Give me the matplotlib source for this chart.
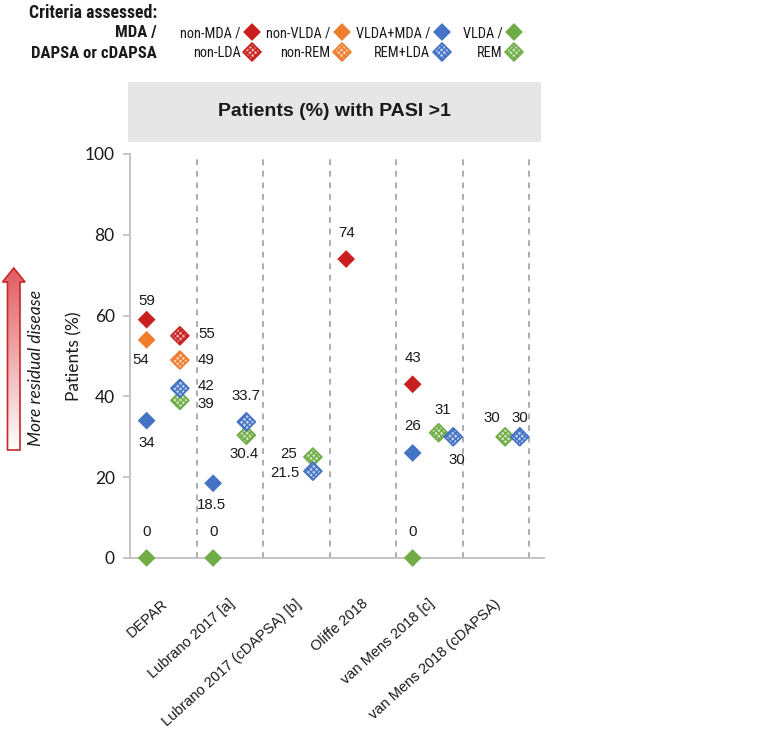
import numpy as np
import matplotlib
matplotlib.use("Agg")
import matplotlib.pyplot as plt
from matplotlib import font_manager as fm
from matplotlib.patches import Polygon, Rectangle

# ---------------- data ----------------
categories = ["DEPAR", "Lubrano 2017 [a]", "Lubrano 2017 (cDAPSA) [b]",
              "Oliffe 2018", "van Mens 2018 [c]", "van Mens 2018 (cDAPSA)"]

# MDA-based criteria (solid markers)
non_mda  = [59, None, None, 74, 43, None]
non_vlda = [54, None, None, None, None, None]
vlda_mda = [34, 18.5, None, None, 26, None]
vlda     = [0, 0, None, None, 0, None]

# DAPSA / cDAPSA-based criteria (patterned markers)
non_lda = [55, None, None, None, None, None]
non_rem = [49, None, None, None, None, None]
rem_lda = [42, 33.7, 21.5, None, 30, 30]
rem     = [39, 30.4, 25, None, 31, 30]

y_ticks = [0, 20, 40, 60, 80, 100]

# ---------------- style ----------------
RED, ORANGE, BLUE, GREEN = "#C8201E", "#EE7D2E", "#4472C4", "#70AD47"
names = {f.name for f in fm.fontManager.ttflist}
SANS = "Liberation Sans"
NARROW = SANS
for cand in ["Liberation Sans Narrow", "Arial Narrow", "Roboto Condensed", "Open Sans Condensed", "Roboto"]:
    if cand in names:
        NARROW = cand
        break
CAL = "Lato"
TXT = "#1a1a1a"

W, H, DPI = 767, 736, 100
fig = plt.figure(figsize=(W / DPI, H / DPI), dpi=DPI)
fig.patch.set_facecolor("white")

# main axes (pixel layout: x 130..544, y 154..558)
ax = fig.add_axes([130 / W, 1 - 558 / H, (544 - 130) / W, (558 - 154) / H])
ax.set_xlim(-0.5, 5.725)
ax.set_ylim(0, 100)
for s in ["top", "right"]:
    ax.spines[s].set_visible(False)
for s in ["left", "bottom"]:
    ax.spines[s].set_color("#BFBFBF")
    ax.spines[s].set_linewidth(1.3)
ax.set_yticks(y_ticks)
ax.set_yticklabels([str(v) for v in y_ticks], fontfamily=CAL, fontsize=12.5, color=TXT)
ax.tick_params(axis="y", length=5, width=1.2, color="#BFBFBF", pad=6)
ax.set_xticks([])
for i in range(len(categories)):
    ax.axvline(i + 0.5, color="#A6A6A6", lw=1.3, ls=(0, (3.2, 3.2)), zorder=1)

ax.set_ylabel("Patients (%)", fontfamily=CAL, fontsize=12.5, color=TXT, labelpad=2)

# category labels
for i, c in enumerate(categories):
    ax.annotate(c, xy=(i, 0), xycoords=("data", "axes fraction"),
                xytext=(3, -44), textcoords="offset pixels",
                rotation=42, rotation_mode="anchor", ha="right", va="center",
                fontfamily=SANS, fontsize=10.5, color=TXT, annotation_clip=False)

MS = 82
HATCH = "xxxxxx"
plt.rcParams["hatch.linewidth"] = 1.0


def tint(c, f=0.35):
    r = np.array(matplotlib.colors.to_rgb(c))
    return tuple(r * f + (1 - f))


solid_series = [("non_mda", non_mda, RED), ("non_vlda", non_vlda, ORANGE),
                ("vlda_mda", vlda_mda, BLUE), ("vlda", vlda, GREEN)]
pat_series = [("non_lda", non_lda, RED), ("non_rem", non_rem, ORANGE),
              ("rem", rem, GREEN), ("rem_lda", rem_lda, BLUE)]

# label offsets (pixels, dy up) and alignment per (series, category index)
label_pos = {
    ("non_mda", 0): (0, 19, "center"), ("non_mda", 3): (0, 26, "center"), ("non_mda", 4): (0, 26, "center"),
    ("non_vlda", 0): (-6, -20, "center"),
    ("vlda_mda", 0): (0, -22, "center"), ("vlda_mda", 1): (-2, -22, "center"), ("vlda_mda", 4): (0, 27, "center"),
    ("vlda", 0): (0, 26, "center"), ("vlda", 1): (0, 26, "center"), ("vlda", 4): (0, 26, "center"),
    ("non_lda", 0): (18, 2, "left"), ("non_rem", 0): (18, 0, "left"),
    ("rem_lda", 0): (18, 2, "left"), ("rem_lda", 1): (0, 26, "center"), ("rem_lda", 2): (-13, -2, "right"),
    ("rem_lda", 4): (4, -23, "center"), ("rem_lda", 5): (0, 19, "center"),
    ("rem", 0): (18, -4, "left"), ("rem", 1): (-2, -19, "center"), ("rem", 2): (-16, 3, "right"),
    ("rem", 4): (4, 23, "center"), ("rem", 5): (-13, 19, "center"),
}


def fmt(v):
    return f"{v:g}"


def label(key, i, x, v):
    dx, dy, ha = label_pos.get((key, i), (0, 20, "center"))
    ax.annotate(fmt(v), xy=(x, v), xytext=(dx, dy), textcoords="offset pixels",
                ha=ha, va="center", fontfamily=SANS, fontsize=10.8, color=TXT,
                annotation_clip=False, zorder=6)


def pat_marker(axx, x, y, col, **kw):
    axx.scatter([x], [y], marker="D", s=MS, facecolor=tint(col), edgecolors=col,
                linewidths=1.3, hatch=HATCH, **kw)


for key, vals, col in solid_series:
    for i, v in enumerate(vals):
        if v is None:
            continue
        x = i - 0.25
        ax.scatter([x], [v], marker="D", s=MS, color=col, edgecolors="none",
                   clip_on=False, zorder=4)
        label(key, i, x, v)

for key, vals, col in pat_series:
    for i, v in enumerate(vals):
        if v is None:
            continue
        x = i + 0.25
        if rem[i] is not None and rem_lda[i] is not None and abs(rem[i] - rem_lda[i]) < 2:
            x += -0.11 if key == "rem" else 0.11
        pat_marker(ax, x, v, col, clip_on=False, zorder=4)
        label(key, i, x, v)

# ---------------- overlay (legend, header, arrow) in pixel coords ----------------
ov = fig.add_axes([0, 0, 1, 1], zorder=-1)
ov.set_xlim(0, W)
ov.set_ylim(H, 0)
ov.axis("off")

ov.add_patch(Rectangle((128, 82), 541 - 128, 142 - 82, facecolor="#E7E6E6", edgecolor="none"))
ov.text((128 + 541) / 2, 112, "Patients (%) with PASI >1", ha="center", va="center",
        fontfamily=SANS, fontweight="bold", fontsize=14, color=TXT)

renderer = fig.canvas.get_renderer()


def fit_size(items, weight, base=10.0):
    # items: list of (text, target_width_px); returns a common font size
    tot_w, tot_t = 0.0, 0.0
    for s, tw in items:
        t = ov.text(0, 0, s, fontfamily=NARROW, fontweight=weight, fontsize=base)
        tot_w += t.get_window_extent(renderer).width
        tot_t += tw
        t.remove()
    return base * tot_t / tot_w


legend_items = [("non-MDA /", "non-LDA", RED, 241, 252),
                ("non-VLDA /", "non-REM", ORANGE, 330, 342),
                ("VLDA+MDA /", "REM+LDA", BLUE, 430, 442),
                ("VLDA /", "REM", GREEN, 503, 514)]
grow = 1.0 if NARROW in ("Liberation Sans Narrow", "Arial Narrow") else 1.06
reg_size = grow * fit_size([("non-MDA /", 56), ("non-LDA", 48), ("non-VLDA /", 60),
                            ("VLDA+MDA /", 70), ("VLDA /", 38)], "normal")
bold_size = 1.1 * fit_size([("MDA /", 34), ("DAPSA or cDAPSA", 117)], "bold")
head_size = 1.12 * fit_size([("Criteria assessed:", 115)], "bold")

ov.text(157, 13, "Criteria assessed:", ha="right", va="center", fontfamily=NARROW,
        fontweight="bold", fontsize=head_size, color=TXT)
ov.text(157, 33, "MDA /", ha="right", va="center", fontfamily=NARROW,
        fontweight="bold", fontsize=bold_size, color=TXT)
ov.text(157, 53, "DAPSA or cDAPSA", ha="right", va="center", fontfamily=NARROW,
        fontweight="bold", fontsize=bold_size, color=TXT)

for t1, t2, col, tx, mx in legend_items:
    ov.text(tx, 33, t1, ha="right", va="center", fontfamily=NARROW, fontsize=reg_size, color=TXT)
    ov.text(tx, 53, t2, ha="right", va="center", fontfamily=NARROW, fontsize=reg_size, color=TXT)
    ov.scatter([mx], [32], marker="D", s=MS, color=col, edgecolors="none")
    pat_marker(ov, mx, 52, col)

# gradient arrow
arrow_pts = [(7.5, 450), (20, 450), (20, 282), (25, 282), (13.75, 268), (2.5, 282), (7.5, 282)]
poly = Polygon(arrow_pts, closed=True, facecolor="none", edgecolor="#C82828", lw=1.2, zorder=3)
ov.add_patch(poly)
n = 200
top = np.array([0.88, 0.36, 0.38])
bot = np.array([1.0, 1.0, 1.0])
t = np.linspace(0, 1, n)[:, None]
grad = (top * (1 - t) + bot * t)[:, None, :]
im = ov.imshow(grad, extent=(2.5, 25, 450, 268), origin="upper", aspect="auto", zorder=2)
clip = Polygon(arrow_pts, closed=True, transform=ov.transData)
im.set_clip_path(clip)
ov.set_xlim(0, W)
ov.set_ylim(H, 0)
ov.text(36, 368, "More residual disease", rotation=90, ha="center", va="center",
        fontfamily=CAL, fontstyle="italic", fontsize=12.5, color=TXT)

fig.savefig("out.png", dpi=DPI)
